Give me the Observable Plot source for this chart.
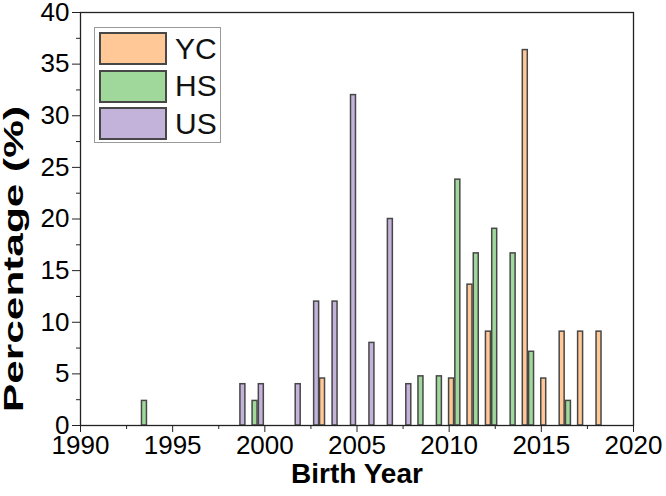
<!DOCTYPE html>
<html>
<head>
<meta charset="utf-8">
<script src="https://cdn.jsdelivr.net/npm/d3@7"></script>
<script src="https://cdn.jsdelivr.net/npm/@observablehq/plot@0.6"></script>
<style>
  body { margin: 0; background: #fff; }
  #chart { position: relative; width: 666px; height: 496px; font-family: "Liberation Sans", Arial, sans-serif; }
  #chart svg { display: block; }
  .legend { position: absolute; left: 94px; top: 27px; width: 127px; height: 116px; border: 1px solid #9a9a9a; background: #fff; box-sizing: border-box; }
  .legend .row { position: absolute; left: 4px; height: 33px; display: flex; align-items: center; }
  .legend .sw { width: 64px; height: 29px; border: 2px solid #474747; }
  .legend .lab { margin-left: 8px; font-size: 30px; color: #111; line-height: 1; }
</style>
</head>
<body>
<div id="chart"></div>
<script>
// Series names and fill colours
const series = ["YC", "HS", "US"];
const colors = ["#FFC896", "#A0D89C", "#C3B2DA"];

// Share of each group born in a given year (%)
const ycYears  = [2003, 2010, 2011, 2012, 2014, 2015, 2016, 2017, 2018];
const ycValues = [4.55, 4.55, 13.64, 9.09, 36.36, 4.55, 9.09, 9.09, 9.09];

const hsYears  = [1993, 1999, 2008, 2009, 2010, 2011, 2012, 2013, 2014, 2016];
const hsValues = [2.38, 2.38, 4.76, 4.76, 23.81, 16.67, 19.05, 16.67, 7.14, 2.38];

const usYears  = [1998, 1999, 2001, 2002, 2003, 2004, 2005, 2006, 2007];
const usValues = [4, 4, 4, 12, 12, 32, 8, 20, 4];

// Axis ticks
const xTicks = [1990, 1995, 2000, 2005, 2010, 2015, 2020];
const yTicks = [0, 5, 10, 15, 20, 25, 30, 35, 40];

// Long-format table for the grouped bars
const rows = [];
const addSeries = (name, years, values) =>
  years.forEach((year, i) => rows.push({ series: name, year, value: values[i] }));
addSeries("YC", ycYears, ycValues);
addSeries("HS", hsYears, hsValues);
addSeries("US", usYears, usValues);

// Position of each series within a year's bin (in years), and half a bar's width
const slot = { YC: 0.13, HS: 0.47, US: 0.81 };
const half = 0.135;

const minorX = d3.range(1992.5, 2020, 5);
const minorY = d3.range(2.5, 40, 5);

const yTitle = "Percentage (%)";

const chart = Plot.plot({
  width: 666,
  height: 496,
  marginLeft: 80,
  marginRight: 33,
  marginTop: 12,
  marginBottom: 71,
  x: { domain: [1990, 2020] },
  y: { domain: [0, 40] },
  color: { domain: series, range: colors },
  style: { fontFamily: "Liberation Sans, Arial, sans-serif", fontSize: "26px", color: "#000", background: "#fff" },
  marks: [
    Plot.rectY(rows, {
      x1: d => d.year + slot[d.series] - half,
      x2: d => d.year + slot[d.series] + half,
      y: "value",
      fill: "series",
      stroke: "#474747",
      strokeWidth: 1.5
    }),
    Plot.axisX({ ticks: xTicks, tickSize: 7, tickPadding: 3, tickFormat: d => String(d), label: null, fontSize: 26, stroke: "#222", fill: "#000" }),
    Plot.axisX({ ticks: minorX, tickSize: 4, tickFormat: () => "", label: null, stroke: "#222" }),
    Plot.axisY({ ticks: yTicks, tickSize: 8, tickPadding: 3, tickFormat: d => String(d), label: null, fontSize: 26, stroke: "#222", fill: "#000" }),
    Plot.axisY({ ticks: minorY, tickSize: 4, tickFormat: () => "", label: null, stroke: "#222" }),
    Plot.frame({ stroke: "#222", strokeWidth: 1.3 }),
    Plot.text(["Birth Year"], {
      text: d => d, frameAnchor: "bottom", dy: 57, textAnchor: "middle",
      fontSize: 28, fontWeight: "bold", fill: "#000"
    }),
    Plot.text([yTitle], {
      text: d => d, frameAnchor: "left", dx: -66, dy: 40, rotate: -90, textAnchor: "middle",
      fontSize: 27.5, fontWeight: "bold", fill: "#000"
    })
  ]
});

// The vertical title is drawn out along its length
d3.select(chart).selectAll("text")
  .filter(function () { return this.textContent === yTitle; })
  .attr("textLength", 306)
  .attr("lengthAdjust", "spacingAndGlyphs");

const root = document.getElementById("chart");
root.appendChild(chart);

// Legend box in the upper-left of the plot area
const legend = document.createElement("div");
legend.className = "legend";
series.forEach((name, i) => {
  const row = document.createElement("div");
  row.className = "row";
  row.style.top = (4 + i * 37.5) + "px";
  const sw = document.createElement("div");
  sw.className = "sw";
  sw.style.background = colors[i];
  const lab = document.createElement("span");
  lab.className = "lab";
  lab.textContent = name;
  row.appendChild(sw);
  row.appendChild(lab);
  legend.appendChild(row);
});
root.appendChild(legend);
</script>
</body>
</html>
